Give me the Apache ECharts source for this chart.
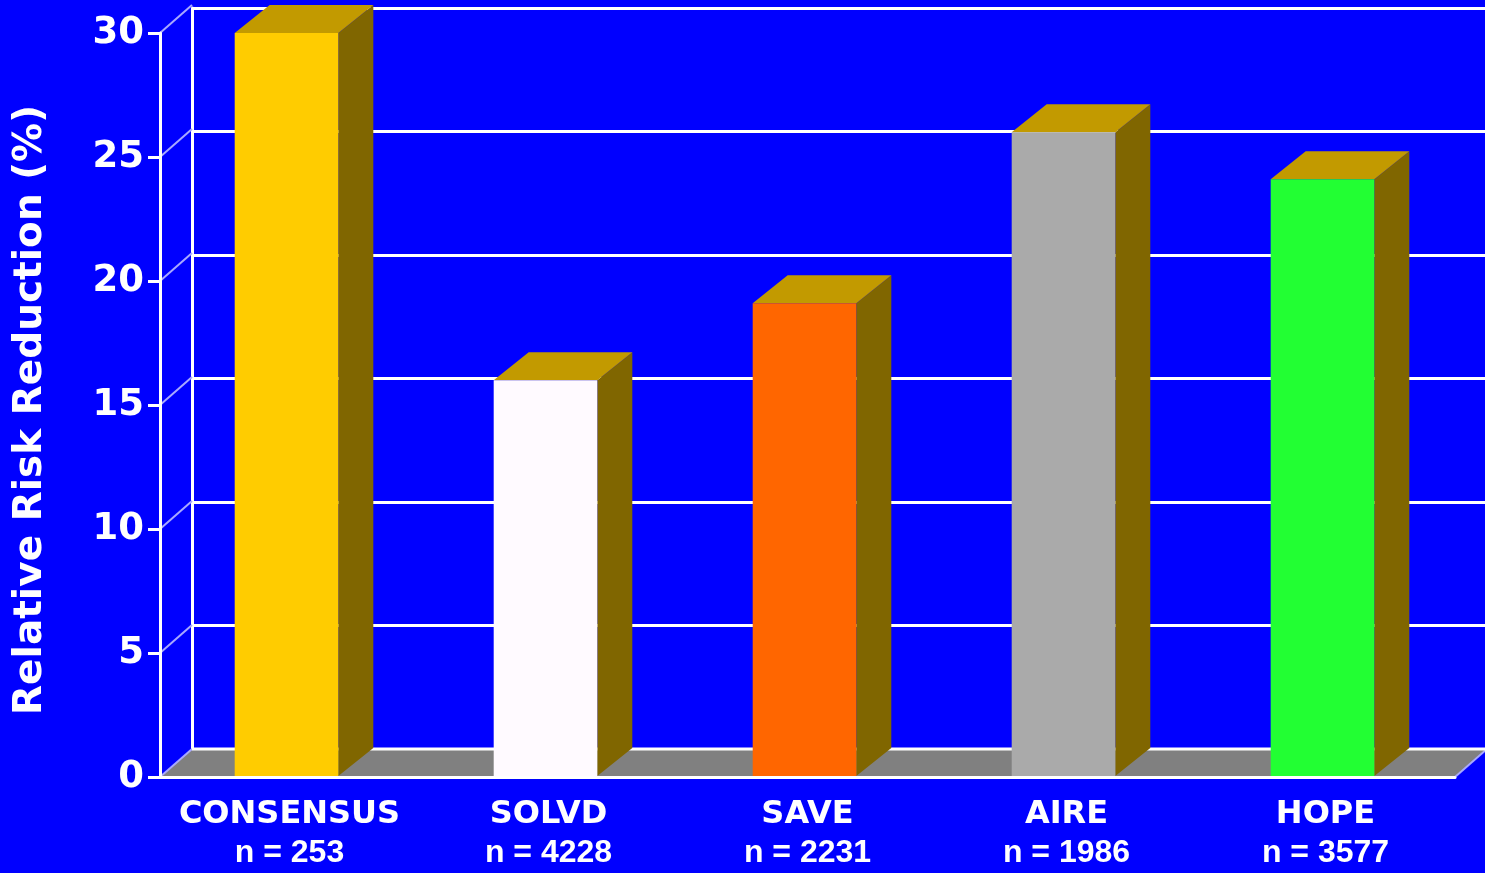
<!DOCTYPE html>
<html>
<head>
<meta charset="utf-8">
<script src="https://cdn.jsdelivr.net/npm/echarts@6/dist/echarts.min.js"></script>
<style>
html,body{margin:0;padding:0;background:#0000ff;}
#chart{width:1485px;height:873px;}
</style>
</head>
<body>
<div id="chart"></div>
<script>
const categories = ['CONSENSUS', 'SOLVD', 'SAVE', 'AIRE', 'HOPE'];
const sampleSizes = ['253', '4228', '2231', '1986', '3577'];
const values = [30, 16, 19.1, 26, 24.1];
const yTicks = [0, 5, 10, 15, 20, 25, 30];
const barColors = ['#ffcc00', '#fffaff', '#ff6600', '#aaaaaa', '#22ff33'];

const WALL_DX = 32, BAR_DX = 35, DY = 28;
const FONT = '"DejaVu Sans", Verdana, sans-serif';
const FONT2 = '"Liberation Sans", Arial, sans-serif';

const chart = echarts.init(document.getElementById('chart'));

function floorItem(params, api) {
  const cs = params.coordSys;
  const x = cs.x, y = cs.y, w = cs.width, h = cs.height;
  const yb = y + h;
  const children = [{
    type: 'polygon',
    shape: { points: [[x, yb], [x + WALL_DX, yb - DY], [x + w + WALL_DX, yb - DY], [x + w, yb]] },
    style: { fill: '#808080' }
  }];
  yTicks.forEach(function (v) {
    const p = api.coord([0, v]);
    children.push({
      type: 'line',
      shape: { x1: x, y1: p[1], x2: x + WALL_DX, y2: p[1] - DY },
      style: { stroke: '#a8a8ff', lineWidth: 2 }
    });
  });
  children.push({
    type: 'line',
    shape: { x1: x + w, y1: yb, x2: x + w + WALL_DX, y2: yb - DY },
    style: { stroke: '#a8a8ff', lineWidth: 2 }
  });
  children.push({
    type: 'line',
    shape: { x1: x + WALL_DX, y1: yb - DY, x2: x + w + WALL_DX + 40, y2: yb - DY },
    style: { stroke: '#ffffff', lineWidth: 3 }
  });
  return { type: 'group', children: children };
}

function barItem(params, api) {
  const idx = api.value(0);
  const top = api.coord([idx, api.value(1)]);
  const base = api.coord([idx, 0]);
  const band = api.size([1, 0])[0];
  const bw = band * 0.4;
  const xl = top[0] - bw / 2 - 3;
  const xr = xl + bw;
  const yt = top[1], yb = base[1] - 1;
  const c = barColors[idx];
  return {
    type: 'group',
    children: [
      { type: 'polygon', shape: { points: [[xr, yt], [xr + BAR_DX, yt - DY], [xr + BAR_DX, yb - DY], [xr, yb]] }, style: { fill: '#806600' } },
      { type: 'polygon', shape: { points: [[xl, yt], [xl + BAR_DX, yt - DY], [xr + BAR_DX, yt - DY], [xr, yt]] }, style: { fill: '#c29a00' } },
      { type: 'rect', shape: { x: xl, y: yt, width: bw, height: yb - yt }, style: { fill: c } }
    ]
  };
}

chart.setOption({
  backgroundColor: '#0000ff',
  animation: false,
  grid: [
    { left: 160, right: 30, top: 33, bottom: 96 },
    { left: 192, right: -10, top: 8, bottom: 124 }
  ],
  xAxis: [
    {
      type: 'category', gridIndex: 0, data: categories, z: 10,
      axisLine: { show: true, lineStyle: { color: '#ffffff', width: 3 } },
      axisTick: { show: false },
      splitLine: { show: false },
      axisLabel: {
        margin: 19,
        interval: 0,
        formatter: function (v, i) { return '{a|' + v + '}\n{b|n = ' + sampleSizes[i] + '}'; },
        rich: {
          a: { color: '#ffffff', fontFamily: FONT, fontWeight: 'bold', fontSize: 32, lineHeight: 38 },
          b: { color: '#ffffff', fontFamily: FONT2, fontWeight: 'bold', fontSize: 32, lineHeight: 38 }
        }
      }
    },
    {
      type: 'category', gridIndex: 1, data: categories, show: false
    }
  ],
  yAxis: [
    {
      type: 'value', gridIndex: 0, min: 0, max: 30, interval: 5, z: 10,
      name: 'Relative Risk Reduction (%)',
      nameLocation: 'middle', nameGap: 110, nameRotate: 90,
      nameTextStyle: { color: '#ffffff', fontFamily: FONT, fontWeight: 'bold', fontSize: 39, padding: [0, 10, 0, 0] },
      axisLine: { show: true, lineStyle: { color: '#ffffff', width: 3 } },
      axisTick: { show: true, length: 12, lineStyle: { color: '#ffffff', width: 3 } },
      splitLine: { show: false },
      axisLabel: { margin: 16, color: '#ffffff', fontFamily: FONT, fontWeight: 'bold', fontSize: 37 }
    },
    {
      type: 'value', gridIndex: 1, min: 0, max: 30, interval: 5,
      axisLine: { show: true, lineStyle: { color: '#ffffff', width: 3 } },
      axisTick: { show: false },
      axisLabel: { show: false },
      splitLine: { show: true, lineStyle: { color: '#ffffff', width: 3 } }
    }
  ],
  series: [
    {
      type: 'custom', xAxisIndex: 0, yAxisIndex: 0, z: 1,
      renderItem: floorItem, data: [[0, 0]], silent: true
    },
    {
      type: 'custom', xAxisIndex: 0, yAxisIndex: 0, z: 2,
      renderItem: barItem,
      data: values.map(function (v, i) { return [i, v]; })
    }
  ]
});
</script>
</body>
</html>
